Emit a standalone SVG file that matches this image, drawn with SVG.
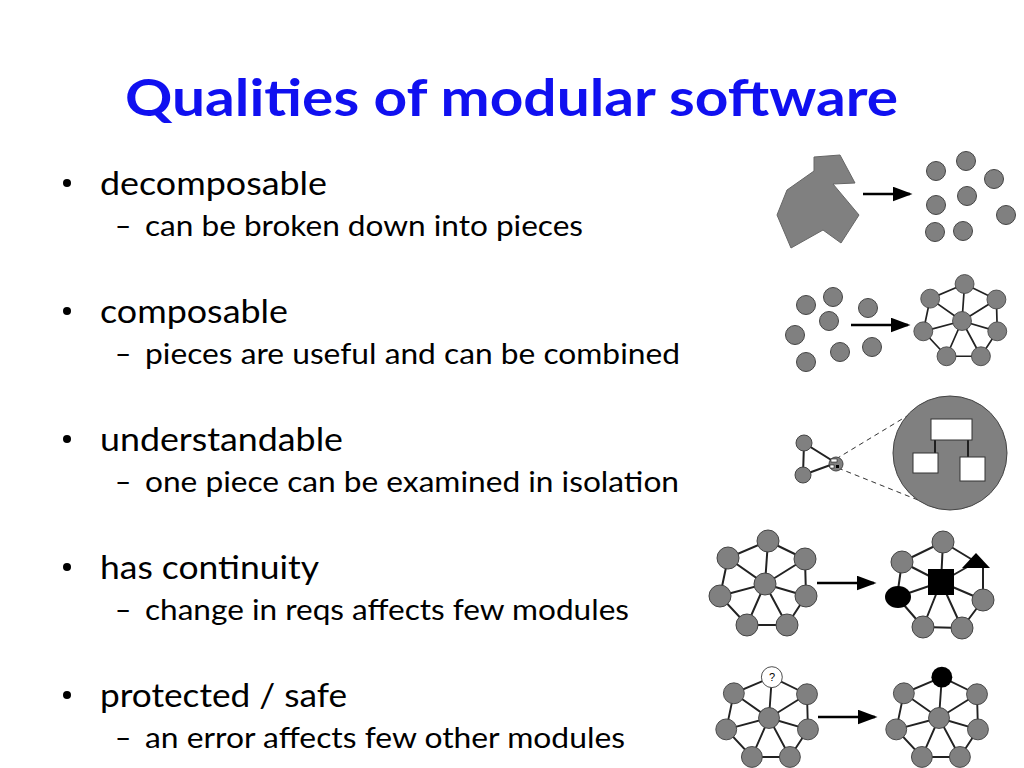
<svg xmlns="http://www.w3.org/2000/svg" xmlns:xlink="http://www.w3.org/1999/xlink" width="1024" height="768" viewBox="0 0 1024 768">
<style>
.t{font-family:Lato,"Open Sans","Liberation Sans",sans-serif;fill:#000}
.b{font-size:32px}.s{font-size:28px}
.n{fill:#808080;stroke:#444;stroke-width:1}
.e{stroke:#222;stroke-width:2;fill:none}
.a{stroke:#000;stroke-width:2.5}
</style>
<defs>
<marker id="ah" markerWidth="8" markerHeight="6" refX="7" refY="3" orient="auto" markerUnits="strokeWidth"><path d="M0,0L8,3L0,6z" fill="#000"/></marker>
<g id="edges">
<path class="e" d="M3,-43L-37,-26L-45,12L-18,41L22,41L41,12L40,-25L3,-43M0,0L3,-43M0,0L-37,-26M0,0L40,-25M0,0L-45,12M0,0L41,12M0,0L-18,41M0,0L22,41"/>
</g>
<g id="outer">
<circle class="n" cx="-37" cy="-26" r="11"/><circle class="n" cx="40" cy="-25" r="11"/>
<circle class="n" cx="-45" cy="12" r="11"/><circle class="n" cx="41" cy="12" r="11"/>
<circle class="n" cx="-18" cy="41" r="11"/><circle class="n" cx="22" cy="41" r="11"/>
</g>
<g id="graph"><use xlink:href="#edges"/><use xlink:href="#outer"/><circle class="n" cx="0" cy="0" r="11"/><circle class="n" cx="3" cy="-43" r="11"/></g>
</defs>
<rect width="1024" height="768" fill="#fff"/>
<text x="125" y="116" font-family="Lato,'Liberation Sans',sans-serif" font-weight="bold" font-size="52" fill="#1010f0" textLength="773" lengthAdjust="spacingAndGlyphs">Qualities of modular software</text>
<g id="text">
<g class="t">
<circle cx="67" cy="183" r="4"/><text class="b" x="100" y="195" textLength="227" lengthAdjust="spacingAndGlyphs">decomposable</text>
<text class="s" x="115" y="236">–</text><text class="s" x="145" y="236" textLength="438" lengthAdjust="spacingAndGlyphs">can be broken down into pieces</text>
<circle cx="67" cy="311" r="4"/><text class="b" x="100" y="323" textLength="188" lengthAdjust="spacingAndGlyphs">composable</text>
<text class="s" x="115" y="364">–</text><text class="s" x="145" y="364" textLength="535" lengthAdjust="spacingAndGlyphs">pieces are useful and can be combined</text>
<circle cx="67" cy="439" r="4"/><text class="b" x="100" y="451" textLength="243" lengthAdjust="spacingAndGlyphs">understandable</text>
<text class="s" x="115" y="492">–</text><text class="s" x="145" y="492" textLength="534" lengthAdjust="spacingAndGlyphs">one piece can be examined in isolation</text>
<circle cx="67" cy="567" r="4"/><text class="b" x="100" y="579" textLength="219" lengthAdjust="spacingAndGlyphs">has continuity</text>
<text class="s" x="115" y="620">–</text><text class="s" x="145" y="620" textLength="484" lengthAdjust="spacingAndGlyphs">change in reqs affects few modules</text>
<circle cx="67" cy="695" r="4"/><text class="b" x="100" y="707" textLength="247" lengthAdjust="spacingAndGlyphs">protected / safe</text>
<text class="s" x="115" y="748">–</text><text class="s" x="145" y="748" textLength="480" lengthAdjust="spacingAndGlyphs">an error affects few other modules</text>
</g>
</g>
<g id="connectors">
<line class="a" x1="863" y1="194" x2="910" y2="194" marker-end="url(#ah)"/>
<line class="a" x1="851" y1="325" x2="908" y2="325" marker-end="url(#ah)"/>
<line class="a" x1="817" y1="583" x2="874" y2="583" marker-end="url(#ah)"/>
<line class="a" x1="818" y1="717" x2="875" y2="717" marker-end="url(#ah)"/>
</g>
<g id="decomposable">
<polygon points="814,157 840,155 855,183 833,184 859,215 841,243 823,230 791,248 777,215 787,190 814,171" fill="#808080" stroke="#666"/>
<circle class="n" cx="936" cy="171" r="9.5"/><circle class="n" cx="966" cy="161" r="9.5"/><circle class="n" cx="994" cy="179" r="9.5"/><circle class="n" cx="967" cy="196" r="9.5"/>
<circle class="n" cx="936" cy="205" r="9.5"/><circle class="n" cx="1006" cy="215" r="9.5"/><circle class="n" cx="935" cy="232" r="9.5"/><circle class="n" cx="963" cy="231" r="9.5"/>
</g>
<g id="composable">
<circle class="n" cx="806" cy="305" r="9.5"/><circle class="n" cx="833" cy="297" r="9.5"/><circle class="n" cx="868" cy="308" r="9.5"/><circle class="n" cx="829" cy="321" r="9.5"/>
<circle class="n" cx="795" cy="335" r="9.5"/><circle class="n" cx="840" cy="352" r="9.5"/><circle class="n" cx="872" cy="347" r="9.5"/><circle class="n" cx="806" cy="362" r="9.5"/>
<use xlink:href="#graph" transform="translate(962,321) scale(0.86)"/>
</g>
<g id="understandable">
<path class="e" d="M804,443L803,475L836,463Z" stroke-width="1.5"/>
<circle class="n" cx="804" cy="443" r="8"/><circle class="n" cx="803" cy="475" r="8"/>
<path d="M836,459L912,413M838,468L918,500" stroke="#333" stroke-dasharray="5,4" fill="none"/>
<circle class="n" cx="836" cy="464" r="7"/>
<rect x="831" y="459" width="6" height="3" fill="#fff" stroke="#000" stroke-width="0.5"/><rect x="830" y="465" width="4" height="3" fill="#fff" stroke="#000" stroke-width="0.5"/><rect x="836" y="465" width="3" height="3" fill="#000"/>
<circle class="n" cx="950" cy="453" r="57"/>
<path d="M935,440V453M968,440V457" stroke="#000" stroke-width="1.5"/>
<rect x="931" y="419" width="41" height="21" fill="#fff" stroke="#333"/>
<rect x="913" y="453" width="25" height="20" fill="#fff" stroke="#333"/>
<rect x="960" y="457" width="25" height="24" fill="#fff" stroke="#333"/>
</g>
<g id="continuity">
<use xlink:href="#graph" transform="translate(765,584)"/>
<path class="e" d="M941,582L943,542M941,582L902,562M941,582L976,562M941,582L897,597M941,582L983,600M941,582L923,627M941,582L962,628M943,542L902,562M943,542L976,562M902,562L897,597M897,597L923,627M923,627L962,628M962,628L983,600M983,600L983,567"/>
<circle class="n" cx="943" cy="542" r="11"/><circle class="n" cx="902" cy="562" r="11"/><circle class="n" cx="983" cy="600" r="11"/><circle class="n" cx="923" cy="627" r="11"/><circle class="n" cx="962" cy="628" r="11"/>
<polygon points="976,553 962,568 990,568" fill="#000"/>
<rect x="928" y="569" width="26" height="26" fill="#000"/>
<ellipse cx="898" cy="597" rx="13" ry="11" fill="#000"/>
</g>
<g id="protected">
<g transform="translate(769,718) scale(0.95)"><use xlink:href="#edges"/><use xlink:href="#outer"/><circle class="n" cx="0" cy="0" r="11"/><circle cx="3" cy="-43" r="11" fill="#fff" stroke="#444"/></g>
<text x="772" y="681" font-family="'Liberation Sans',sans-serif" font-size="11" text-anchor="middle">?</text>
<g transform="translate(939,718) scale(0.95)"><use xlink:href="#edges"/><use xlink:href="#outer"/><circle class="n" cx="0" cy="0" r="11"/><circle cx="3" cy="-43" r="11" fill="#000"/></g>
</g>
</svg>
